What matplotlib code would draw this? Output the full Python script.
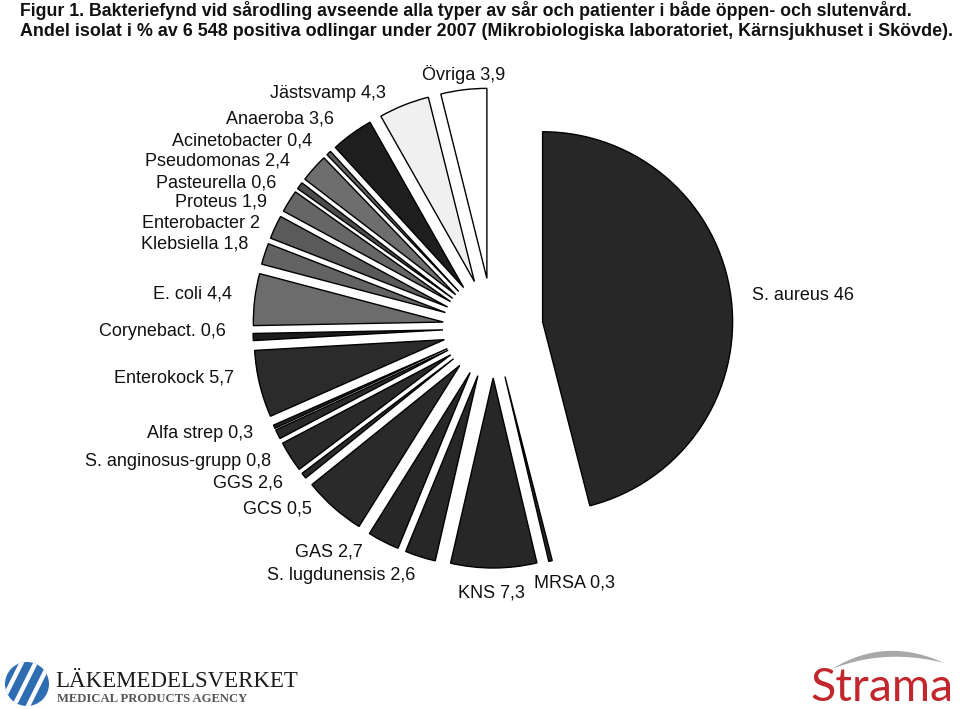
import numpy as np
import matplotlib
matplotlib.use("Agg")
import matplotlib.pyplot as plt
from matplotlib.patches import Circle, Polygon

W, H = 960, 709

# Share of isolates (%), listed counter-clockwise from 12 o'clock
names = ["Övriga", "Jästsvamp", "Anaeroba", "Acinetobacter", "Pseudomonas",
         "Pasteurella", "Proteus", "Enterobacter", "Klebsiella", "E. coli",
         "Corynebact.", "Enterokock", "Alfa strep", "S. anginosus-grupp",
         "GGS", "GCS", "", "GAS", "S. lugdunensis", "KNS", "MRSA", "S. aureus"]
values = [3.9, 4.3, 3.6, 0.4, 2.4,
          0.6, 1.9, 2, 1.8, 4.4,
          0.6, 5.7, 0.3, 0.8,
          2.6, 0.5, 5.3, 2.7, 2.6, 7.3, 0.3, 46]

# Wedge fills (greyscale print)
colors = ["#ffffff", "#f0f0f0", "#1e1e1e", "#5e5e5e", "#6e6e6e",
          "#4c4c4c", "#666666", "#5a5a5a", "#636363", "#6c6c6c",
          "#1c1c1c", "#2b2b2b", "#222222", "#2a2a2a",
          "#2a2a2a", "#2a2a2a", "#2a2a2a", "#272727", "#272727", "#272727",
          "#272727", "#272727"]

# Label anchors in pixel space: (x, y, horizontal alignment)
label_pos = [(464, 74, "center"), (386, 93, "right"), (334, 119, "right"),
             (312, 141, "right"), (290, 161, "right"), (276, 183, "right"),
             (267, 202, "right"), (260, 224, "right"), (248, 244, "right"),
             (232, 294, "right"), (226, 332, "right"), (234, 378, "right"),
             (253, 434, "right"), (271, 462, "right"), (283, 483, "right"),
             (312, 509, "right"), None, (363, 552, "right"),
             (415, 575, "right"), (491, 593, "center"), (534, 583, "left"),
             (752, 295, "left")]

PIE_CENTER = (493, 328)   # pixels, y downward
PIE_RADIUS = 190
PIE_GAP = 50


def fmt(v):
    return str(int(v)) if float(v).is_integer() else str(v).replace(".", ",")


fig = plt.figure(figsize=(W / 100, H / 100), dpi=100)
ax = fig.add_axes([0, 0, 1, 1])

ax.pie(values, colors=colors, startangle=90, counterclock=True,
       radius=PIE_RADIUS, center=(PIE_CENTER[0], H - PIE_CENTER[1]),
       explode=[PIE_GAP] * len(values),
       wedgeprops=dict(edgecolor="black", linewidth=1.0),
       frame=False)
ax.set_aspect("auto")
ax.set_xlim(0, W)
ax.set_ylim(0, H)
ax.axis("off")


def T(x, y, s, **kw):
    return ax.text(x, H - y, s, **kw)


label_font = dict(family=["Liberation Sans", "DejaVu Sans"], fontsize=13,
                  color="#111111")
for name, v, pos in zip(names, values, label_pos):
    if pos is None or not name:
        continue
    x, y, ha = pos
    T(x, y, f"{name} {fmt(v)}", ha=ha, va="center", **label_font)

# Title lines
renderer = fig.canvas.get_renderer()


def fit_width(txt, width):
    bb = txt.get_window_extent(renderer=renderer)
    txt.set_fontsize(txt.get_fontsize() * width / bb.width)


title_font = dict(family=["Liberation Sans Narrow", "Liberation Sans", "DejaVu Sans"],
                  fontweight="bold", color="#111111", fontsize=12)
t1 = T(20, 15.5, "Figur 1. Bakteriefynd vid sårodling avseende alla typer av sår "
       "och patienter i både öppen- och slutenvård.",
       ha="left", va="baseline", **title_font)
t2 = T(20, 36.5, "Andel isolat i % av 6 548 positiva odlingar under 2007 "
       "(Mikrobiologiska laboratoriet, Kärnsjukhuset i Skövde).",
       ha="left", va="baseline", **title_font)
fit_width(t1, 885)
fit_width(t2, 920)

# Läkemedelsverket emblem and wordmark
emblem = Circle((27, H - 684), 22, facecolor="#2f6db3", edgecolor="none")
ax.add_patch(emblem)
for off in (-14, 0, 14):
    ln, = ax.plot([27 + off - 14, 27 + off + 10], [H - 708, H - 660],
                  color="white", linewidth=3.2, solid_capstyle="butt")
    ln.set_clip_path(emblem)
lm1 = T(55, 687, "LÄKEMEDELSVERKET", ha="left", va="baseline",
        family=["Liberation Serif", "DejaVu Serif"], fontsize=16,
        color="#1a1a1a")
lm2 = T(57, 702, "MEDICAL PRODUCTS AGENCY", ha="left", va="baseline",
        family=["Liberation Serif", "DejaVu Serif"], fontweight="bold",
        fontsize=8, color="#555555")
fit_width(lm1, 243)
fit_width(lm2, 190)

# Strama wordmark with grey swoosh
st = T(810, 701, "Strama", ha="left", va="baseline",
       family=["Lato", "Open Sans", "DejaVu Sans"], fontsize=26,
       color="#c1272d")
fit_width(st, 143)
s = np.linspace(0, 1, 60)
p0, p2 = np.array([832.0, 669.0]), np.array([944.0, 663.0])
upper_ctrl, lower_ctrl = np.array([885.0, 636.0]), np.array([885.0, 648.0])


def bez(c):
    return ((1 - s)[:, None] ** 2 * p0 + 2 * ((1 - s) * s)[:, None] * c
            + (s ** 2)[:, None] * p2)


arc = np.vstack([bez(upper_ctrl), bez(lower_ctrl)[::-1]])
arc[:, 1] = H - arc[:, 1]
ax.add_patch(Polygon(arc, closed=True, facecolor="#a8a8a8", edgecolor="none"))

fig.savefig("out.png", dpi=100, facecolor="white")
